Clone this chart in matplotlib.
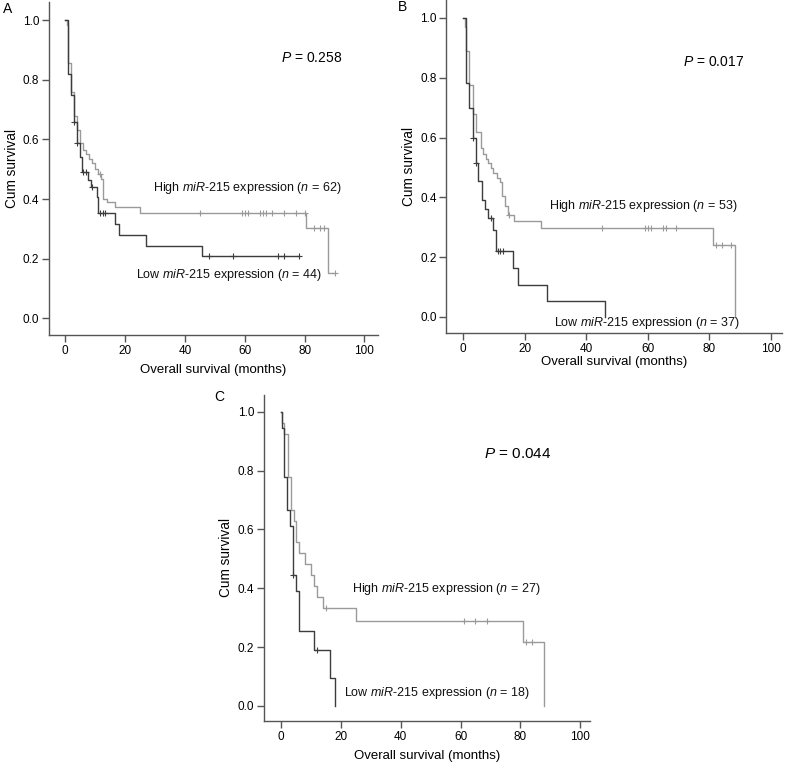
# KM survival curves, three panels (A, B, C)
import numpy as np
import matplotlib
matplotlib.use('Agg')
import matplotlib.pyplot as plt

plt.rcParams['font.family'] = ['Liberation Sans', 'DejaVu Sans']
plt.rcParams['mathtext.fontset'] = 'custom'
plt.rcParams['mathtext.rm'] = 'Liberation Sans'
plt.rcParams['mathtext.it'] = 'Liberation Sans:italic'

HIGH_COL = '#9a9a9a'
LOW_COL = '#3c3c3c'

# ---- panel A ----
a_high_t = [0, 0.5, 1, 2, 3, 4, 5, 6, 7, 8, 9, 10, 11, 12, 12.8, 14, 16.8, 25, 80.5, 87.8]
a_high_s = [1.0, 0.984, 0.855, 0.76, 0.678, 0.63, 0.587, 0.565, 0.55, 0.535, 0.52, 0.50,
            0.485, 0.468, 0.40, 0.389, 0.372, 0.354, 0.302, 0.151]
a_high_c = [11.5, 45, 59, 60, 61, 65, 66, 67, 69, 73, 77, 80, 83, 85, 86.5, 90]
a_high_end = 90

a_low_t = [0, 1, 2, 3, 4, 5, 5.6, 7.5, 8.6, 10.6, 11, 16.5, 17.9, 27, 45.8]
a_low_s = [1.0, 0.82, 0.75, 0.659, 0.589, 0.54, 0.49, 0.464, 0.44, 0.408, 0.352, 0.316,
           0.279, 0.244, 0.21]
a_low_c = [3, 4, 6, 7, 9, 11.7, 12.5, 13.2, 48, 56, 71, 73, 78]
a_low_end = 78

# ---- panel B ----
b_high_t = [0, 0.5, 1, 2, 3, 4, 5.8, 6.5, 7.3, 8.1, 9, 9.8, 10.8, 11.9, 12.7, 13.6, 14.6,
            16.6, 25.2, 81, 88.2]
b_high_s = [1.0, 0.97, 0.888, 0.774, 0.68, 0.62, 0.565, 0.546, 0.528, 0.515, 0.498, 0.481,
            0.465, 0.45, 0.404, 0.37, 0.342, 0.32, 0.298, 0.24, 0.0]
b_high_c = [15, 45, 59, 60, 61, 65, 66, 69, 82, 84, 87]
b_high_end = 88.2

b_low_t = [0, 1, 2, 3, 4, 4.9, 6, 7, 8.1, 9.8, 10.6, 16.3, 17.9, 27.1, 46.1]
b_low_s = [1.0, 0.783, 0.70, 0.598, 0.515, 0.454, 0.39, 0.36, 0.33, 0.29, 0.22, 0.164,
           0.108, 0.052, 0.0]
b_low_c = [3, 4, 9, 11.3, 12, 13]
b_low_end = 46.1

# ---- panel C ----
c_high_t = [0, 0.5, 1, 2.5, 3.5, 4.5, 5, 6, 8, 10, 11, 12, 14, 25, 81, 88]
c_high_s = [1.0, 0.963, 0.926, 0.778, 0.667, 0.63, 0.556, 0.519, 0.481, 0.444, 0.407,
            0.37, 0.333, 0.29, 0.218, 0.0]
c_high_c = [15, 61, 65, 69, 82, 84]
c_high_end = 88

c_low_t = [0, 0.5, 1, 2, 3, 4, 5, 6, 11, 16.3, 18]
c_low_s = [1.0, 0.944, 0.778, 0.667, 0.611, 0.444, 0.389, 0.255, 0.19, 0.096, 0.0]
c_low_c = [4, 12]
c_low_end = 18

p_vals = ['0.258', '0.017', '0.044']
n_high = [62, 53, 27]
n_low = [44, 37, 18]
panel_tags = ['A', 'B', 'C']


def km_draw(ax, t, s, cens, t_end, col):
    tt = np.append(t, t_end)
    ss = np.append(s, s[-1])
    ax.step(tt, ss, where='post', color=col, lw=1.0)
    cens = np.asarray(cens, float)
    idx = np.searchsorted(np.asarray(t), cens, side='right') - 1
    ax.plot(cens, np.asarray(s)[idx], ls='none', marker='+', ms=5, mew=0.8, color=col)


def style_ax(ax, xlim, ylim):
    ax.set_xlim(*xlim)
    ax.set_ylim(*ylim)
    ax.set_xticks([0, 20, 40, 60, 80, 100])
    ax.set_yticks([0.0, 0.2, 0.4, 0.6, 0.8, 1.0])
    ax.set_yticklabels(['0.0', '0.2', '0.4', '0.6', '0.8', '1.0'])
    for sp in ['top', 'right']:
        ax.spines[sp].set_visible(False)
    for sp in ['left', 'bottom']:
        ax.spines[sp].set_color('#555555')
        ax.spines[sp].set_linewidth(1.0)
    ax.tick_params(direction='out', length=5, width=1.0, color='#555555',
                   labelsize=8.5, pad=2)
    ax.set_xlabel('Overall survival (months)', fontsize=9.5, labelpad=5)
    ax.set_ylabel('Cum survival', fontsize=9.8, labelpad=3)


fig = plt.figure(figsize=(7.9, 7.62), dpi=100)

axA = fig.add_axes([0.062, 0.560, 0.416, 0.437])
axB = fig.add_axes([0.565, 0.563, 0.425, 0.437])
axC = fig.add_axes([0.334, 0.054, 0.413, 0.428])

km_draw(axA, a_high_t, a_high_s, a_high_c, a_high_end, HIGH_COL)
km_draw(axA, a_low_t, a_low_s, a_low_c, a_low_end, LOW_COL)
style_ax(axA, (-5.4, 104.4), (-0.057, 1.06))

km_draw(axB, b_high_t, b_high_s, b_high_c, b_high_end, HIGH_COL)
km_draw(axB, b_low_t, b_low_s, b_low_c, b_low_end, LOW_COL)
style_ax(axB, (-5.5, 103.6), (-0.054, 1.06))
axB.xaxis.labelpad = 1

km_draw(axC, c_high_t, c_high_s, c_high_c, c_high_end, HIGH_COL)
km_draw(axC, c_low_t, c_low_s, c_low_c, c_low_end, LOW_COL)
style_ax(axC, (-5.7, 103.3), (-0.051, 1.058))

# annotations (data coords)
txt_kw = dict(fontsize=9, color='#111111', ha='left', va='center')
axA.text(72, 0.872, r'$\mathit{P}$ = ' + p_vals[0], fontsize=10, va='center')
axA.text(29.5, 0.438, r'High $\mathit{miR}$-$\mathit{215}$ expression ($\mathit{n}$ = %d)' % n_high[0], **txt_kw)
axA.text(23.8, 0.145, r'Low $\mathit{miR}$-$\mathit{215}$ expression ($\mathit{n}$ = %d)' % n_low[0], **txt_kw)

axB.text(71.5, 0.853, r'$\mathit{P}$ = ' + p_vals[1], fontsize=10, va='center')
axB.text(28, 0.37, r'High $\mathit{miR}$-$\mathit{215}$ expression ($\mathit{n}$ = %d)' % n_high[1], **txt_kw)
axB.text(29.5, -0.02, r'Low $\mathit{miR}$-$\mathit{215}$ expression ($\mathit{n}$ = %d)' % n_low[1], **txt_kw)

axC.text(68, 0.856, r'$\mathit{P}$ = ' + p_vals[2], fontsize=11, va='center')
axC.text(23.8, 0.398, r'High $\mathit{miR}$-$\mathit{215}$ expression ($\mathit{n}$ = %d)' % n_high[2], **txt_kw)
axC.text(21, 0.045, r'Low $\mathit{miR}$-$\mathit{215}$ expression ($\mathit{n}$ = %d)' % n_low[2], **txt_kw)

# panel tags
fig.text(3 / 790, 1 - 9 / 762, panel_tags[0], fontsize=10, va='center', ha='left')
fig.text(398 / 790, 1 - 7 / 762, panel_tags[1], fontsize=10, va='center', ha='left')
fig.text(214 / 790, 1 - 397 / 762, panel_tags[2], fontsize=10, va='center', ha='left')

plt.savefig('out.png', dpi=100)
